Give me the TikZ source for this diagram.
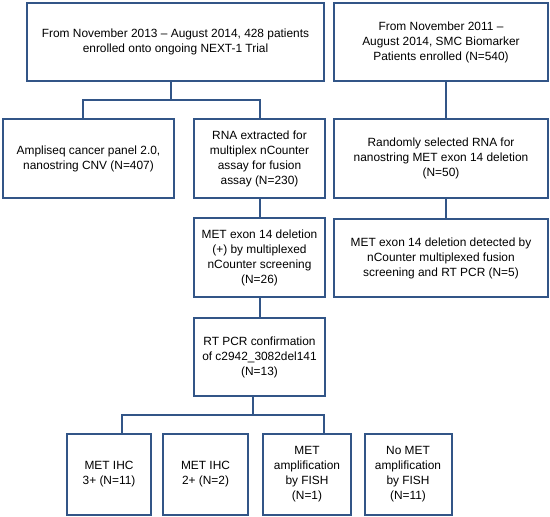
\documentclass[tikz,border=0pt]{standalone}
\usepackage{fontspec}
\setmainfont{Liberation Sans}
\definecolor{boxline}{RGB}{50,85,135}
\begin{document}
\begin{tikzpicture}[x=1pt,y=-1pt]
	\tikzstyle{every node}+=[inner sep=0pt]
	\tikzstyle{flowbox}=[draw=boxline, line width=2pt, align=center, font=\fontsize{11.9}{15}\selectfont]
	\tikzstyle{link}=[draw=boxline, line width=2pt]
	\useasboundingbox (0,0) rectangle (550,517);
	% left column
	\node [flowbox, minimum width=297pt, minimum height=78pt] (trial) at (175.5,42) {From November 2013 -- August 2014, 428 patients\\enrolled onto ongoing NEXT-1 Trial};
	\node [flowbox, minimum width=171pt, minimum height=79pt] (ampliseq) at (88.5,158.5) {Ampliseq cancer panel 2.0,\\nanostring CNV (N=407)};
	\node [flowbox, minimum width=131pt, minimum height=79pt] (rna) at (259.5,158.5) {RNA extracted for\\multiplex nCounter\\assay for fusion\\assay (N=230)};
	\node [flowbox, minimum width=131pt, minimum height=79pt] (exonpos) at (259.5,257.5) {MET exon 14 deletion\\(+) by multiplexed\\nCounter screening\\(N=26)};
	\node [flowbox, minimum width=131pt, minimum height=78pt] (rtpcr) at (259.5,357) {RT PCR confirmation\\of c2942\_3082del141\\(N=13)};
	% right column
	\node [flowbox, minimum width=214pt, minimum height=78pt] (smc) at (441,42) {From November 2011 --\\August 2014, SMC Biomarker\\Patients enrolled (N=540)};
	\node [flowbox, minimum width=214pt, minimum height=79pt] (random) at (441,158.5) {Randomly selected RNA for\\nanostring MET exon 14 deletion\\(N=50)};
	\node [flowbox, minimum width=214pt, minimum height=78pt] (detected) at (441,258) {MET exon 14 deletion detected by\\nCounter multiplexed fusion\\screening and RT PCR (N=5)};
	% bottom row
	\node [flowbox, minimum width=84pt, minimum height=81pt] (ihcthree) at (109,474) {MET IHC\\3+ (N=11)};
	\node [flowbox, minimum width=85pt, minimum height=81pt] (ihctwo) at (205.5,474) {MET IHC\\2+ (N=2)};
	\node [flowbox, minimum width=88pt, minimum height=81pt] (fishpos) at (307,474) {MET\\amplification\\by FISH\\(N=1)};
	\node [flowbox, minimum width=87pt, minimum height=81pt] (fishneg) at (408,474) {No MET\\amplification\\by FISH\\(N=11)};
	% connectors
	\coordinate (trialsplit) at (171,100);
	\coordinate (ampdrop) at (83,100);
	\coordinate (rightline) at (446,0);
	\coordinate (pcrsplit) at (253,415);
	\coordinate (ihcdrop) at (122,415);
	\coordinate (fishdrop) at (324,415);
	\draw [link] (trialsplit |- trial.south) -- (trialsplit);
	\draw [link] (ampdrop |- ampliseq.north) -- (ampdrop) -- (rna.north |- ampdrop) -- (rna.north);
	\draw [link] (rna.south) -- (exonpos.north);
	\draw [link] (exonpos.south) -- (rtpcr.north);
	\draw [link] (rightline |- smc.south) -- (rightline |- random.north);
	\draw [link] (rightline |- random.south) -- (rightline |- detected.north);
	\draw [link] (pcrsplit |- rtpcr.south) -- (pcrsplit);
	\draw [link] (ihcdrop |- ihcthree.north) -- (ihcdrop) -- (fishdrop) -- (fishdrop |- fishpos.north);
\end{tikzpicture}
\end{document}
